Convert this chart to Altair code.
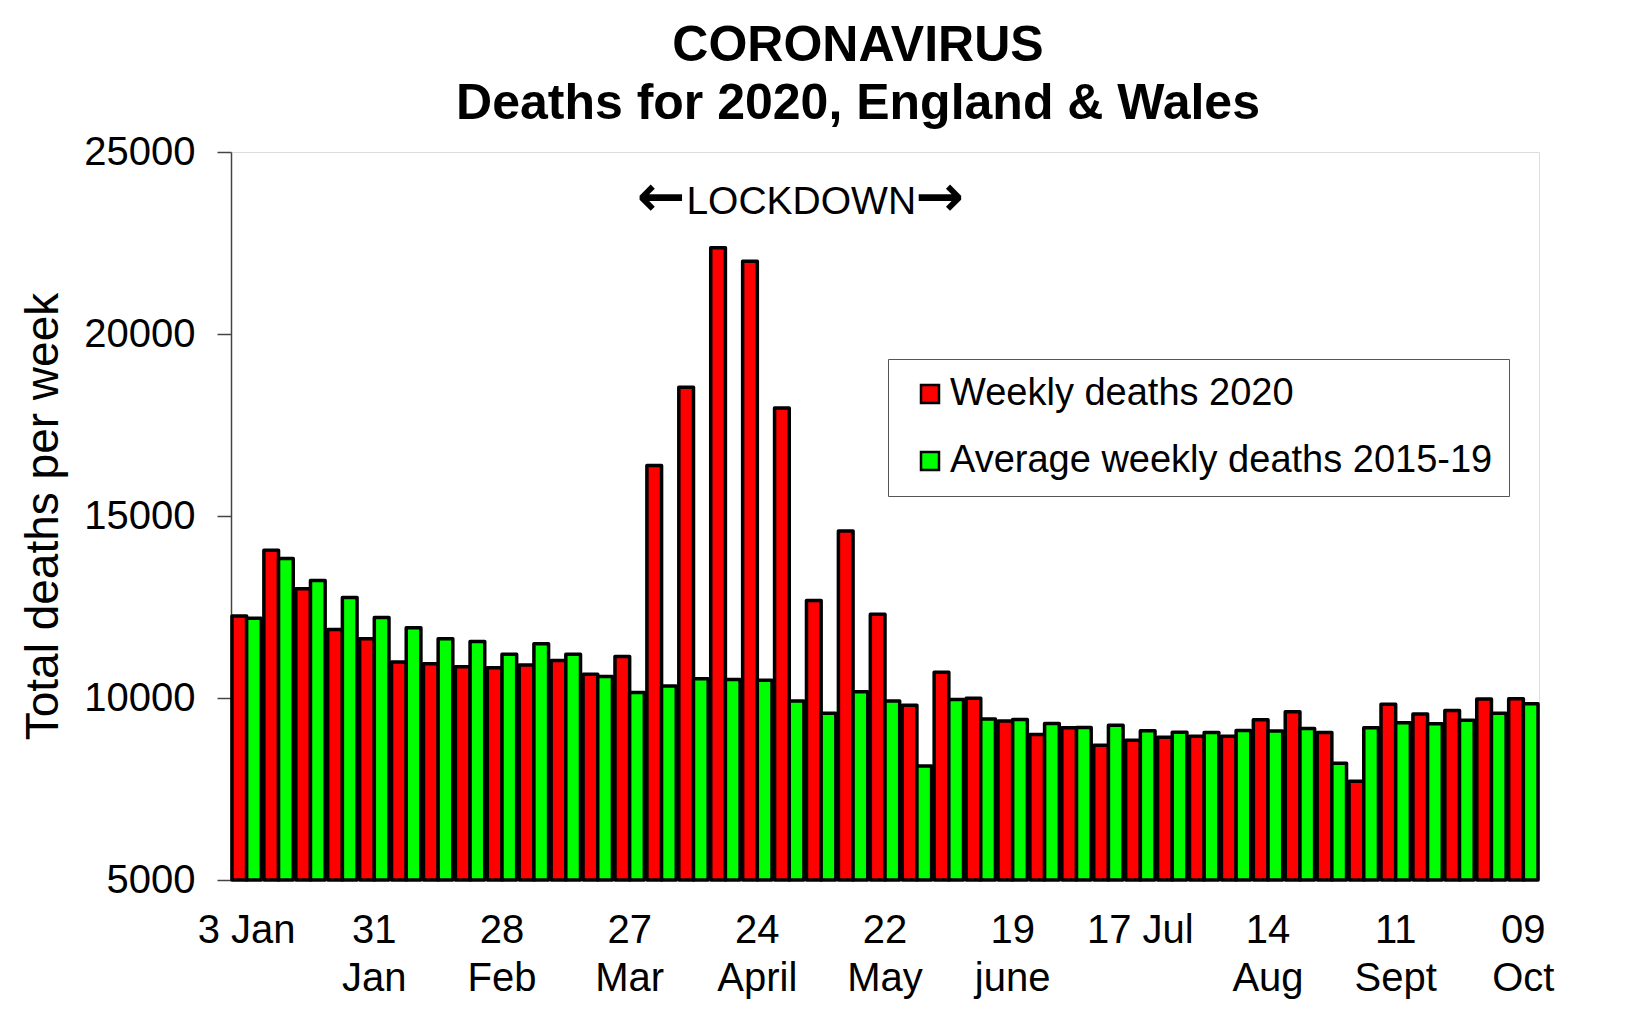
import altair as alt
import pandas as pd

weeks = ["3 Jan", "10 Jan", "17 Jan", "24 Jan", "31 Jan", "7 Feb", "14 Feb", "21 Feb", "28 Feb",
         "6 Mar", "13 Mar", "20 Mar", "27 Mar", "3 Apr", "10 Apr", "17 Apr", "24 Apr",
         "1 May", "8 May", "15 May", "22 May", "29 May", "5 Jun", "12 Jun", "19 Jun", "26 Jun",
         "3 Jul", "10 Jul", "17 Jul", "24 Jul", "31 Jul", "7 Aug", "14 Aug", "21 Aug", "28 Aug",
         "4 Sep", "11 Sep", "18 Sep", "25 Sep", "2 Oct", "9 Oct"]

deaths_2020 = [12250, 14060, 13000, 11880, 11630, 10990, 10940, 10860, 10830,
               10910, 11030, 10650, 11140, 16390, 18540, 22370, 22000,
               17970, 12680, 14590, 12300, 9800, 10710, 9990, 9370, 9000,
               9180, 8700, 8840, 8920, 8950, 8950, 9400, 9620, 9050,
               7710, 9830, 9560, 9660, 9970, 9980]

avg_2015_19 = [12190, 13830, 13230, 12760, 12210, 11930, 11630, 11550, 11200,
               11490, 11200, 10590, 10150, 10330, 10530, 10510, 10490,
               9920, 9580, 10170, 9920, 8130, 9960, 9420, 9410, 9300,
               9190, 9250, 9100, 9060, 9050, 9110, 9090, 9160, 8210,
               9180, 9320, 9290, 9390, 9580, 9840]

series_names = ["Weekly deaths 2020", "Average weekly deaths 2015-19"]
series_colors = ["#FF0000", "#00FF00"]

tick_weeks = ["3 Jan", "31 Jan", "28 Feb", "27 Mar", "24 Apr", "22 May",
              "19 Jun", "17 Jul", "14 Aug", "11 Sep", "9 Oct"]
tick_labels = ["3 Jan", "31\nJan", "28\nFeb", "27\nMar", "24\nApril", "22\nMay",
               "19\njune", "17 Jul", "14\nAug", "11\nSept", "09\nOct"]
y_ticks = [5000, 10000, 15000, 20000, 25000]

title_lines = ["CORONAVIRUS", "Deaths for 2020, England & Wales"]
y_title = "Total deaths per week"
annotation_week = ["1 May"]
annotation_text = ["LOCKDOWN"]

FONT = "Liberation Sans"
W, H = 1308, 728

rows = []
for w, a, b in zip(weeks, deaths_2020, avg_2015_19):
    rows.append({"week": w, "series": series_names[0], "deaths": a})
    rows.append({"week": w, "series": series_names[1], "deaths": b})
bars_df = pd.DataFrame(rows)
ticks_df = pd.DataFrame({"week": tick_weeks, "label": tick_labels})
ann_df = pd.DataFrame({"week": annotation_week, "text": annotation_text})

xscale = alt.Scale(paddingInner=0.08, paddingOuter=0.03)

bars = alt.Chart(bars_df).mark_bar(stroke="black", strokeWidth=3.5, strokeJoin="round").encode(
    x=alt.X("week:N", sort=weeks, scale=xscale, axis=None),
    xOffset=alt.XOffset("series:N", sort=series_names,
                        scale=alt.Scale(paddingInner=0, paddingOuter=0)),
    y=alt.Y("deaths:Q",
            scale=alt.Scale(domain=[5000, 25000], nice=False, zero=False),
            axis=alt.Axis(values=y_ticks, format="d", title=y_title,
                          titleFontSize=46, titleFont=FONT, titleFontWeight="normal",
                          titleColor="black", titlePadding=16,
                          labelFontSize=40, labelFont=FONT, labelColor="black",
                          labelPadding=22, tickSize=14, tickColor="#444", tickWidth=1.5,
                          domainColor="#444", domainWidth=1.5, grid=False)),
    y2=alt.datum(5000),
    color=alt.Color("series:N", sort=series_names,
                    scale=alt.Scale(domain=series_names, range=series_colors),
                    legend=alt.Legend(orient="none", legendX=657, legendY=207, title=None,
                                      labelFontSize=38, labelFont=FONT, labelColor="black",
                                      labelLimit=900, labelOffset=1,
                                      labelExpr="datum.label + '\u00a0'",
                                      symbolType="square", symbolSize=324,
                                      symbolStrokeColor="black", symbolStrokeWidth=2.5,
                                      padding=16, symbolOffset=7, rowPadding=29,
                                      fillColor="white", strokeColor="#555")),
)

xlabels = alt.Chart(ticks_df).mark_text(
    font=FONT, fontSize=40, color="black", baseline="top", align="center",
    lineBreak="\n", lineHeight=48
).encode(
    x=alt.X("week:N", sort=weeks, scale=xscale, axis=None),
    y=alt.value(H + 31),
    text="label:N",
)

lock = alt.Chart(ann_df).mark_text(
    font=FONT, fontSize=39, color="black", baseline="middle", align="center", dx=12
).encode(
    x=alt.X("week:N", sort=weeks, scale=xscale, axis=None),
    y=alt.datum(23620),
    text="text:N",
)
arrow_l = alt.Chart(ann_df).mark_text(
    font="DejaVu Sans", fontWeight="bold", fontSize=58, color="black",
    baseline="middle", align="right", dx=-104, dy=-3, text="←"
).encode(
    x=alt.X("week:N", sort=weeks, scale=xscale, axis=None),
    y=alt.datum(23620),
)
arrow_r = alt.Chart(ann_df).mark_text(
    font="DejaVu Sans", fontWeight="bold", fontSize=58, color="black",
    baseline="middle", align="left", dx=126, dy=-3, text="→"
).encode(
    x=alt.X("week:N", sort=weeks, scale=xscale, axis=None),
    y=alt.datum(23620),
)

chart = alt.layer(bars, xlabels, lock, arrow_l, arrow_r).properties(
    width=W, height=H,
    padding={"left": 12, "top": 13, "right": 5, "bottom": 0},
    title=alt.TitleParams(text=title_lines, font=FONT, fontSize=50, fontWeight="bold",
                          color="black", lineHeight=58, anchor="middle", frame="group",
                          dx=-27, offset=3),
).configure_view(stroke="#333", strokeWidth=1.5).configure(background="white")

chart.save("out.html", embed_options={"renderer": "svg", "actions": False})
